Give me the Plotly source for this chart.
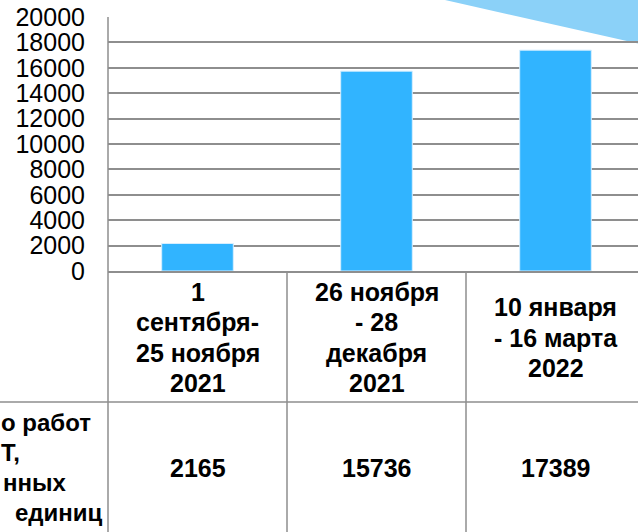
import plotly.graph_objects as go

# data
periods = ["1<br>сентября-<br>25 ноября<br>2021",
           "26 ноября<br>- 28<br>декабря<br>2021",
           "10 января<br>- 16 марта<br>2022"]
works = [2165, 15736, 17389]
# only the visible end of the row header fits into the picture
row_label = ["о работ", "Т,", "нных", "единиц"]
y_ticks = list(range(0, 20001, 2000))

W, H = 638, 532
L, T, B = 108, 17, 261
plot_w = W - L
plot_h = H - T - B
axis_y = H - B  # pixel row of the x axis
pitch = 30.3    # line pitch of the table text

bar_color = "#31b4ff"
grid_color = "#8e8e8e"
font = "Liberation Sans, Arial, sans-serif"


def px_x(p):
    return (p - L) / plot_w


def px_y(p):
    return (axis_y - p) / plot_h


fig = go.Figure()

fig.add_trace(go.Bar(
    x=periods, y=works, width=0.4,
    marker=dict(color=bar_color, line=dict(color="#d6eeff", width=1)),
    showlegend=False, hoverinfo="y",
))

# decorative triangle in the top right corner
fig.add_shape(type="path", xref="paper", yref="paper", layer="below",
              path=f"M {px_x(445)},{px_y(0)} L {px_x(640)},{px_y(0)} L {px_x(640)},{px_y(44)} Z",
              fillcolor="#8bd1f8", line=dict(width=0))

# table lines
line = dict(color=grid_color, width=1.5)
fig.add_shape(type="line", xref="paper", yref="paper", x0=0, x1=0, y0=1, y1=px_y(H + 5), line=line)
for b in [0.5, 1.5, 2.5]:
    fig.add_shape(type="line", xref="x", yref="paper", x0=b, x1=b, y0=0, y1=px_y(H + 5), line=line)
fig.add_shape(type="line", xref="paper", yref="paper", x0=px_x(-5), x1=px_x(W + 5),
              y0=px_y(402), y1=px_y(402), line=line)

bold = dict(family=font, size=25, color="black")

# header row, one annotation per line so the line pitch can be kept tight
for p in periods:
    lines = p.split("<br>")
    top = 337.5 - pitch * (len(lines) - 1) / 2
    for i, ln in enumerate(lines):
        fig.add_annotation(x=p, xref="x", y=px_y(top + pitch * i), yref="paper",
                           text=f"<b>{ln}</b>", showarrow=False, font=bold, yanchor="middle")

# value row
for p, v in zip(periods, works):
    fig.add_annotation(x=p, xref="x", y=px_y(467.5), yref="paper", text=f"<b>{v}</b>",
                       showarrow=False, font=bold, yanchor="middle")

# row label
starts = [-1, -1, 1, 13]
for i, (txt, s) in enumerate(zip(row_label, starts)):
    fig.add_annotation(x=px_x(s), xref="paper", y=px_y(422 + pitch * i), yref="paper",
                       text=f"<b>{txt}</b>", showarrow=False, font=dict(bold, size=24),
                       xanchor="left", yanchor="middle")

fig.update_layout(
    width=W, height=H,
    margin=dict(l=L, r=0, t=T, b=B, autoexpand=False),
    plot_bgcolor="rgba(0,0,0,0)", paper_bgcolor="white",
    font=dict(family=font, color="black"),
    xaxis=dict(range=[-0.5, -0.5 + plot_w / 179], showticklabels=False, showgrid=False,
               zeroline=False, showline=True, linecolor=grid_color, linewidth=1.5,
               automargin=False, fixedrange=True),
    yaxis=dict(range=[0, 20000], tickvals=y_ticks, tickformat="d", showgrid=True,
               gridcolor=grid_color, gridwidth=1.5, zeroline=False, showline=False,
               ticklabelstandoff=22, tickfont=dict(size=25, color="black"),
               automargin=False, fixedrange=True),
)

fig.write_html("out.html", config={"displayModeBar": False},
               post_script="document.body.style.margin='0';")
